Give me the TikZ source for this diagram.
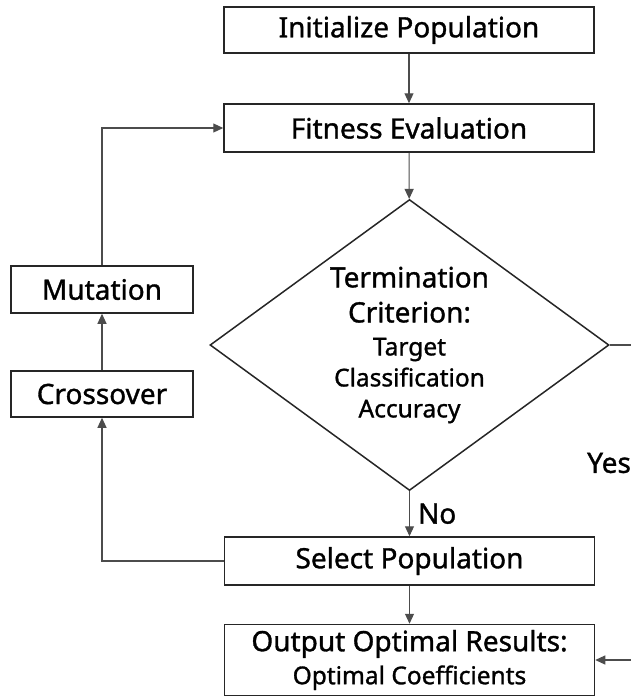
\documentclass[tikz,border=0pt]{standalone}
\usepackage{fontspec}
\setmainfont{Noto Sans}[FakeBold=1.2]
\usetikzlibrary{shapes.geometric, arrows.meta, positioning}

\newcommand{\flowbig}{\fontsize{28}{33}\selectfont}
\newcommand{\flowsmall}{\fontsize{24.5}{31}\selectfont}

\begin{document}
\begin{tikzpicture}[
    x=1pt, y=-1pt,
    >={Triangle[length=10pt, width=9pt]},
    flow_arrow/.style={draw=black!70, line width=1.1pt, ->},
    % Main column boxes
    step_node/.style={rectangle, draw=black!85, line width=1.5pt, minimum width=370pt, minimum height=48pt, align=center, font=\flowbig},
    % Decision
    decision_node/.style={diamond, draw=black!85, line width=1.5pt, aspect=1.37, inner sep=0pt, minimum width=399pt, minimum height=291pt, align=center, font=\flowbig},
    % Loop boxes on the left
    loop_node/.style={rectangle, draw=black!85, line width=1.5pt, minimum width=182pt, minimum height=47pt, align=center, font=\flowbig},
    branch_label/.style={font=\flowbig, inner sep=2pt}
]
    \clip (0,0) rectangle (631,696);

    % =====================================================
    % MAIN COLUMN
    % =====================================================
    \node [step_node, minimum height=46pt] (init) at (409,30) {Initialize Population};
    \node [step_node] (fit) at (409,128) {Fitness Evaluation};
    \node [decision_node] (term) at (409.5,345) {Termination\\[2pt]Criterion:\\{\flowsmall Target}\\[-2pt]{\flowsmall Classification}\\[-2pt]{\flowsmall Accuracy}};
    \node [step_node] (sel) at (409.5,561) {Select Population};
    \node [step_node, minimum height=71pt] (out) at (409.5,660) {Output Optimal Results:\\{\flowsmall Optimal Coefficients}};

    % =====================================================
    % GENETIC OPERATORS
    % =====================================================
    \node [loop_node] (mut) at (102,289.5) {Mutation};
    \node [loop_node, minimum height=46pt] (cross) at (102,394) {Crossover};

    \coordinate (yes_turn) at (650,345);

    \draw [flow_arrow] (init) -- (fit);
    \draw [flow_arrow] (fit) -- (term);
    \draw [flow_arrow] (term) -- node[right=6pt, branch_label] {No} (sel);
    \draw [flow_arrow] (sel) -- (out);
    \draw [flow_arrow] (sel.west) -| (cross.south);
    \draw [flow_arrow] (cross) -- (mut);
    \draw [flow_arrow] (mut.north) |- (fit.west);
    \draw [flow_arrow] (term.east) -- (yes_turn) |- (out.east);

    \node [branch_label, anchor=west] (yes) at (585,463) {Yes};
\end{tikzpicture}
\end{document}
